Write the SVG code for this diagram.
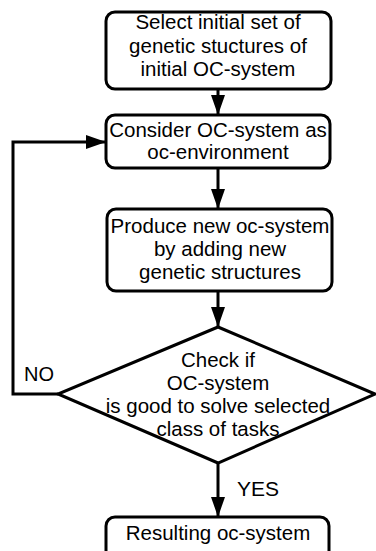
<svg xmlns="http://www.w3.org/2000/svg" width="376" height="551" viewBox="0 0 376 551">
<defs>
<style>
.box{fill:#fff;stroke:#000;stroke-width:3}
.t{font-family:"Liberation Sans",Arial,sans-serif;font-size:20.5px;fill:#000;text-anchor:middle}
.lbl{font-family:"Liberation Sans",Arial,sans-serif;font-size:20px;fill:#000}
.ln{fill:none;stroke:#000;stroke-width:3}
</style>
<marker id="ah" markerWidth="20" markerHeight="14" refX="20" refY="7" orient="auto" markerUnits="userSpaceOnUse">
<path d="M0,0 L20,7 L0,14 Z" fill="#000"/>
</marker>
</defs>
<rect width="376" height="551" fill="#fff"/>
<g id="connectors">
<line class="ln" x1="218" y1="89" x2="218" y2="115" marker-end="url(#ah)"/>
<line class="ln" x1="218" y1="168" x2="218" y2="209" marker-end="url(#ah)"/>
<line class="ln" x1="218" y1="291" x2="218" y2="327" marker-end="url(#ah)"/>
<line class="ln" x1="218" y1="463" x2="218" y2="517" marker-end="url(#ah)"/>
<polyline class="ln" points="58,394 13,394 13,142 106,142" marker-end="url(#ah)"/>
<text class="lbl" x="24" y="381">NO</text>
<text class="lbl" x="237" y="496" style="font-size:21px">YES</text>
</g>
<g id="n1">
<rect class="box" x="106" y="12" width="225" height="77" rx="9"/>
<text class="t" x="218" y="29">Select initial set of</text>
<text class="t" x="218" y="53">genetic stuctures of</text>
<text class="t" x="218" y="76">initial OC-system</text>
</g>
<g id="n2">
<rect class="box" x="106" y="115" width="224" height="53" rx="9"/>
<text class="t" x="218" y="137">Consider OC-system as</text>
<text class="t" x="218" y="159">oc-environment</text>
</g>
<g id="n3">
<rect class="box" x="107" y="209" width="225" height="82" rx="9"/>
<text class="t" x="220" y="233">Produce new oc-system</text>
<text class="t" x="220" y="256">by adding new</text>
<text class="t" x="220" y="279">genetic structures</text>
</g>
<g id="n4">
<polygon class="box" points="218,327 375,394 218,463 58,394"/>
<text class="t" x="218" y="367">Check if</text>
<text class="t" x="218" y="390">OC-system</text>
<text class="t" x="218" y="413">is good to solve selected</text>
<text class="t" x="218" y="436">class of tasks</text>
</g>
<g id="n5">
<rect class="box" x="106" y="517" width="223" height="50" rx="9"/>
<text class="t" x="218" y="540">Resulting oc-system</text>
</g>
</svg>
